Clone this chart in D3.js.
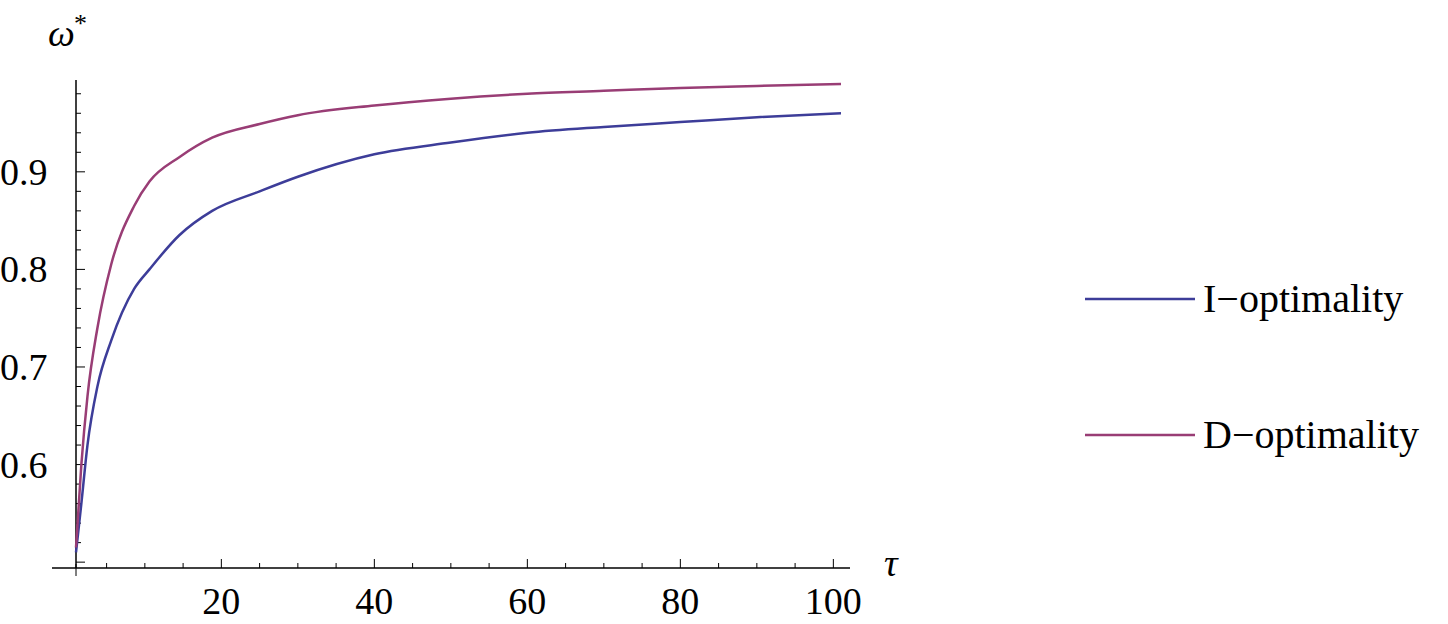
<!DOCTYPE html>
<html><head><meta charset="utf-8">
<script src="https://cdn.jsdelivr.net/npm/d3@7"></script>
<style>body{margin:0;background:#fff}text{font-family:"Liberation Serif","DejaVu Serif",serif}</style>
</head><body>
<script>
// values
var tau   = [1, 1.7, 2.5, 3.8, 5.6, 8.6, 10.6, 14.5, 18.8, 25, 30, 40, 50, 60, 70, 80, 90, 101];
var iOpt  = [0.51, 0.56, 0.62, 0.68, 0.727, 0.78, 0.80, 0.835, 0.86, 0.88, 0.895, 0.918, 0.93, 0.94, 0.946, 0.951, 0.956, 0.96];
var dOpt  = [0.515, 0.6, 0.67, 0.74, 0.805, 0.865, 0.89, 0.915, 0.935, 0.949, 0.958, 0.968, 0.975, 0.98, 0.983, 0.986, 0.988, 0.99];
var seriesNames = ["I\u2212optimality", "D\u2212optimality"];
var colors = ["#3d3d99", "#993d75"];
var xTicks = [20, 40, 60, 80, 100];
var yTicks = [0.6, 0.7, 0.8, 0.9];

var svg = d3.select("body").append("svg").attr("width", 1448).attr("height", 624);
var x = d3.scaleLinear().domain([1, 101]).range([76, 841]);
var y = d3.scaleLinear().domain([0.494, 0.99]).range([568, 84]);

// axes
var xa = svg.append("g").attr("transform", "translate(0,568)");
xa.append("line").attr("x1", 52).attr("x2", 850).attr("stroke", "#000").attr("stroke-width", 1.5);
d3.range(5, 101, 5).forEach(function (t) {
  var major = t % 20 === 0;
  xa.append("line").attr("x1", x(t)).attr("x2", x(t)).attr("y1", 0).attr("y2", major ? -9 : -5).attr("stroke", "#000");
});
xTicks.forEach(function (t) {
  xa.append("text").attr("x", x(t)).attr("y", 46).attr("text-anchor", "middle").attr("font-size", 38).text(t);
});
xa.append("line").attr("x1", x(1)).attr("x2", x(1)).attr("y1", -4).attr("y2", 8).attr("stroke", "#000");

var ya = svg.append("g").attr("transform", "translate(76,0)");
ya.append("line").attr("y1", 568).attr("y2", 80).attr("stroke", "#000").attr("stroke-width", 1.5);
d3.range(0.5, 0.99, 0.02).forEach(function (v) {
  var major = Math.abs(v * 10 - Math.round(v * 10)) < 1e-6;
  ya.append("line").attr("x1", 0).attr("x2", major ? 9 : 5).attr("y1", y(v)).attr("y2", y(v)).attr("stroke", "#000");
});
yTicks.forEach(function (v) {
  ya.append("text").attr("x", -40).attr("y", y(v) + 13).attr("text-anchor", "start").attr("dx", -36).attr("font-size", 38).text(v.toFixed(1));
});

svg.append("text").attr("x", 884).attr("y", 576).attr("font-size", 38).attr("font-style", "italic").text("\u03c4");
svg.append("text").attr("x", 48).attr("y", 46).attr("font-size", 38).attr("font-style", "italic").text("\u03c9");
svg.append("text").attr("x", 74).attr("y", 32).attr("font-size", 26).text("*");

var line = d3.line().x(function (d) { return x(d[0]); }).y(function (d) { return y(d[1]); }).curve(d3.curveMonotoneX);
[iOpt, dOpt].forEach(function (s, i) {
  svg.append("path").datum(d3.zip(tau, s)).attr("d", line).attr("fill", "none")
    .attr("stroke", colors[i]).attr("stroke-width", 2.5);
});

// legend
[299, 435].forEach(function (ly, i) {
  svg.append("line").attr("x1", 1085).attr("x2", 1195).attr("y1", ly).attr("y2", ly).attr("stroke", colors[i]).attr("stroke-width", 2.5);
  svg.append("text").attr("x", 1203).attr("y", ly + 13).attr("font-size", 40).text(seriesNames[i]);
});
</script>
</body></html>
